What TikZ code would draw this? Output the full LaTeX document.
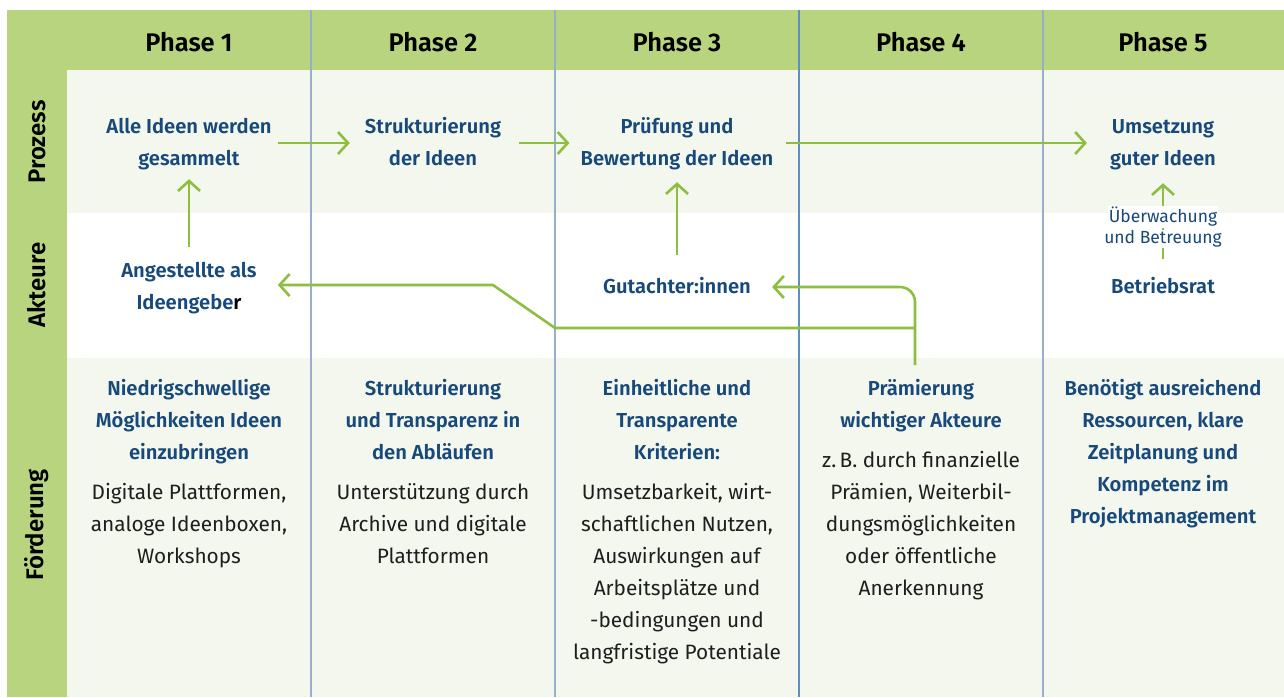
\documentclass[tikz,border=0pt]{standalone}
\usepackage{fontspec}
\setmainfont{Fira Sans}[BoldFont={Fira Sans SemiBold}]
\usetikzlibrary{arrows.meta}
\definecolor{headgreen}{HTML}{B9D47F}
\definecolor{paleg}{HTML}{F4F7EE}
\definecolor{arrowg}{HTML}{8CBE3F}
\definecolor{inkblue}{HTML}{17497A}
\definecolor{rulec}{HTML}{97AFC8}
\definecolor{rulecb}{HTML}{5F8FBF}
\definecolor{bodyink}{HTML}{1E1E1E}
\begin{document}
\begin{tikzpicture}[x=1pt,y=-1pt,
  phase/.style={font=\bfseries\fontsize{25.5}{30}\selectfont, text=black},
  rowlabel/.style={rotate=90, font=\bfseries\fontsize{24}{28}\selectfont, text=black},
  textblock/.style={align=center, inner sep=0pt},
  blue/.style={textblock, font=\bfseries\fontsize{20.2}{32}\selectfont, text=inkblue},
  body/.style={textblock, font=\fontsize{20.8}{32}\selectfont, text=bodyink},
  small/.style={font=\fontsize{17.5}{21}\selectfont, text=inkblue, fill=white, inner sep=1pt},
  arr/.style={draw=arrowg, line width=2.6pt, -{Straight Barb[length=10pt,width=22pt]}},
  divider/.style={draw=rulec, line width=1.3pt}]
\useasboundingbox (0,0) rectangle (1284,697);
% backgrounds
\fill[white] (0,0) rectangle (1284,697);
\fill[headgreen] (7,10) rectangle (1284,70);
\fill[headgreen] (7,10) rectangle (67,697);
\fill[paleg] (67,70) rectangle (1284,213);
\fill[paleg] (67,358) rectangle (1284,697);
% column dividers
\draw[divider] (311,10) -- (311,697);
\draw[divider] (555,10) -- (555,697);
\draw[divider, draw=rulecb] (799,10) -- (799,697);
\draw[divider] (1043,10) -- (1043,697);

% header
\node[phase] (ph1) at (189,42) {Phase 1};
\node[phase] (ph2) at (433,42) {Phase 2};
\node[phase] (ph3) at (677,42) {Phase 3};
\node[phase] (ph4) at (921,42) {Phase 4};
\node[phase] (ph5) at (1163,42) {Phase 5};

% row labels
\node[rowlabel] (lproz) at (37,142) {Prozess};
\node[rowlabel] (lakt) at (37,285) {Akteure};
\node[rowlabel] (lfoer) at (37,525) {Förderung};

% process row (struts give every block a height of n x 32pt)
\node[blue] (p1) at (189,143) {\strut Alle Ideen werden\\gesammelt\strut};
\node[blue] (p2) at (433,143) {\strut Strukturierung\\der Ideen\strut};
\node[blue] (p3) at (677,143) {\strut Prüfung und\\Bewertung der Ideen\strut};
\node[blue] (p5) at (1163,143) {\strut Umsetzung\\guter Ideen\strut};

% actors row
\node[blue] (ang) at (189,287) {\strut Angestellte als\\Ideengebe{\color{black}r}\strut};
\node[blue] (gut) at (677,287) {\strut Gutachter:innen\strut};
\node[blue] (betr) at (1163,287) {\strut Betriebsrat\strut};

% support row
\node[blue] (f1h) at (189,421) {\strut Niedrigschwellige\\Möglichkeiten Ideen\\einzubringen\strut};
\node[body] (f1b) at (189,525) {\strut Digitale Plattformen,\\analoge Ideenboxen,\\Workshops\strut};
\node[blue] (f2h) at (433,421) {\strut Strukturierung\\und Transparenz in\\den Abläufen\strut};
\node[body] (f2b) at (433,525) {\strut Unterstützung durch\\Archive und digitale\\Plattformen\strut};
\node[blue] (f3h) at (677,421) {\strut Einheitliche und\\Transparente\\Kriterien:\strut};
\node[body] (f3b) at (677,573) {\strut Umsetzbarkeit, wirt-\\schaftlichen Nutzen,\\Auswirkungen auf\\Arbeitsplätze und\\-bedingungen und\\langfristige Potentiale\strut};
\node[blue] (f4h) at (921,405) {\strut Prämierung\\wichtiger Akteure\strut};
\node[body] (f4b) at (921,525) {\strut z.\,B. durch finanzielle\\Prämien, Weiterbil-\\dungsmöglichkeiten\\oder öffentliche\\Anerkennung\strut};
\node[blue] (f5h) at (1163,453) {\strut Benötigt ausreichend\\Ressourcen, klare\\Zeitplanung und\\Kompetenz im\\Projektmanagement\strut};

% process flow
\draw[arr] ([xshift=6pt]p1.east) -- ([xshift=-15pt]p2.west);
\draw[arr] ([xshift=18pt]p2.east) -- ([xshift=-11pt]p3.west);
\draw[arr] ([xshift=12pt]p3.east) -- ([xshift=-23pt]p5.west);

% actors feed the process
\draw[arr] ([yshift=8pt]ang.north) -- ([yshift=-4pt]p1.south);
\draw[arr] ([yshift=16pt]gut.north) -- ([yshift=-7pt]p3.south);
\draw[arr] ([yshift=12pt]betr.north) -- ([yshift=-8pt]p5.south);
\node[small] (watch1) at (1163,217) {Überwachung};
\node[small] (watch2) at (1163,239) {und Betreuung};

% recognition loop back to the actors
\coordinate (pstart) at (915,365);
\coordinate (split) at (915,328);
\coordinate (bend) at (555,328);
\coordinate (knee) at (493,285);
\draw[arr, rounded corners=15pt, shorten >=21pt] (pstart) |- (gut.east);
\draw[arr, shorten >=21pt] (split) -- (bend) -- (knee) -- (knee -| ang.east);
\end{tikzpicture}
\end{document}
